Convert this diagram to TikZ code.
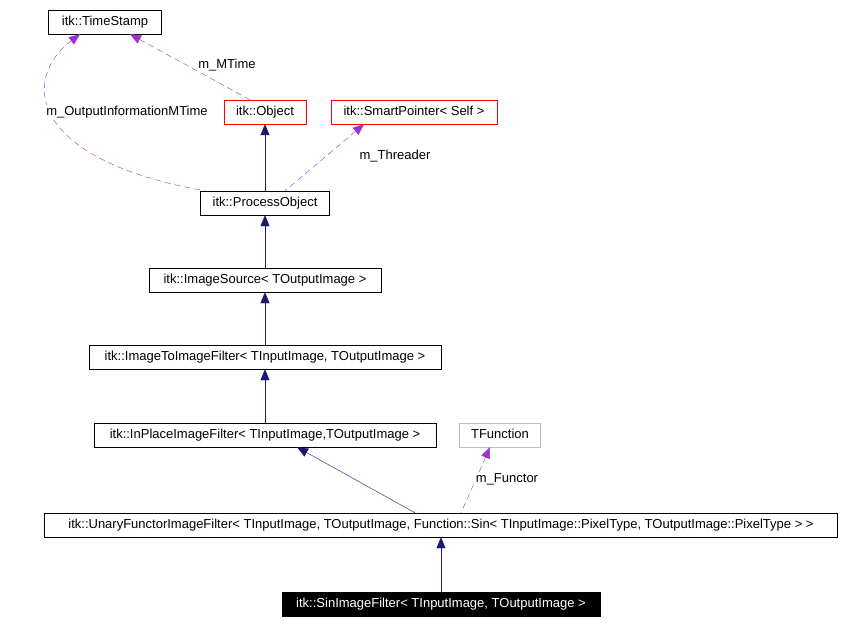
\documentclass[tikz,border=0pt]{standalone}
\usepackage{fontspec}
\setmainfont{Liberation Sans}
\usetikzlibrary{arrows.meta}
\definecolor{navy}{HTML}{191970}
\definecolor{violet}{HTML}{9A32CD}
\tikzset{
  cls/.style={draw=black, fill=white, inner sep=0pt, minimum height=24, text height=9.5, text depth=2.5, font=\fontsize{13}{14}\selectfont},
  inh/.style={draw=navy, {Triangle[length=11,width=9,fill=navy]}-},
  use/.style={draw=violet, dashed, dash pattern=on 6 off 4, {Triangle[length=11,width=9,fill=violet]}-},
  lbl/.style={font=\fontsize{13}{14}\selectfont, fill=white, inner sep=1pt}
}
\begin{document}
\begin{tikzpicture}[x=1pt,y=-1pt]
\useasboundingbox (0,0) rectangle (846,623);
\node[cls, minimum width=113] (stamp) at (105,22) {itk::TimeStamp};
\node[cls, draw=red, minimum width=82] (object) at (265,112) {itk::Object};
\node[cls, draw=red, minimum width=166] (smart) at (414,112) {itk::SmartPointer< Self >};
\node[cls, minimum width=129] (process) at (265,203) {itk::ProcessObject};
\node[cls, minimum width=232] (source) at (265,280) {itk::ImageSource< TOutputImage >};
\node[cls, minimum width=352] (i2i) at (265,357) {itk::ImageToImageFilter< TInputImage, TOutputImage >};
\node[cls, minimum width=342] (inplace) at (265,435) {itk::InPlaceImageFilter< TInputImage,TOutputImage >};
\node[cls, draw=gray!50, minimum width=81] (tfunc) at (500,435) {TFunction};
\node[cls, minimum width=793] (unary) at (441,525) {itk::UnaryFunctorImageFilter< TInputImage, TOutputImage, Function::Sin< TInputImage::PixelType, TOutputImage::PixelType > >};
\node[cls, fill=black, text=white, minimum width=318] (sin) at (441,604) {itk::SinImageFilter< TInputImage, TOutputImage >};
% inheritance
\draw[inh] (object) -- (process);
\draw[inh] (process) -- (source);
\draw[inh] (source) -- (i2i);
\draw[inh] (i2i) -- (inplace);
\draw[inh] ([xshift=32]inplace.south) -- ([xshift=-26]unary.north);
\draw[inh] (unary) -- (sin);
% usage
\draw[use] ([xshift=25]stamp.south) -- ([xshift=-15]object.north);
\node[lbl] (mtime) at (227,65) {m\_MTime};
\draw[use] ([xshift=-25]stamp.south) .. controls (20,80) and (30,160) .. ([xshift=-60]process.north);
\node[lbl] (outinfo) at (127,112) {m\_OutputInformationMTime};
\draw[use] ([xshift=-50]smart.south) -- ([xshift=20]process.north);
\node[lbl] (threader) at (395,156) {m\_Threader};
\draw[use] ([xshift=-10]tfunc.south) -- ([xshift=20]unary.north);
\node[lbl] (functor) at (507,479) {m\_Functor};
\end{tikzpicture}
\end{document}
